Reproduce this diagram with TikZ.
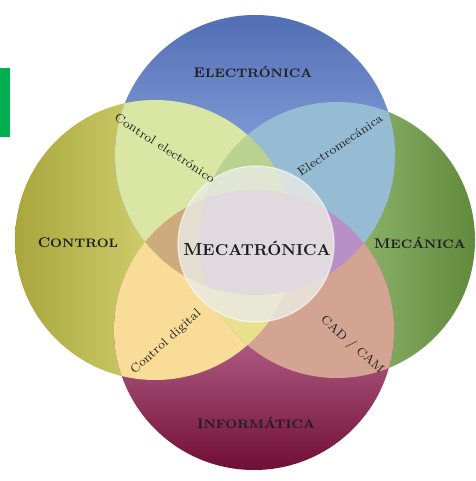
\documentclass[tikz,border=0pt]{standalone}
\usepackage{fontspec}
\usepackage{tikz}
\usetikzlibrary{positioning}
\definecolor{BarGreen}{RGB}{0,176,80}
\definecolor{ElecTop}{RGB}{82,110,180}
\definecolor{ElecBot}{RGB}{178,204,250}
\definecolor{CtrlOut}{RGB}{168,166,60}
\definecolor{CtrlIn}{RGB}{248,248,160}
\definecolor{MecIn}{RGB}{200,232,170}
\definecolor{MecOut}{RGB}{96,138,60}
\definecolor{InfTop}{RGB}{248,178,222}
\definecolor{InfBot}{RGB}{112,14,52}
\definecolor{LensCE}{RGB}{218,230,164}
\definecolor{LensEM}{RGB}{150,188,212}
\definecolor{LensCI}{RGB}{248,220,152}
\definecolor{LensMI}{RGB}{212,164,146}
\definecolor{TriCEM}{RGB}{184,210,144}
\definecolor{TriCIM}{RGB}{232,224,140}
\definecolor{TriCEI}{RGB}{204,172,124}
\definecolor{TriMEI}{RGB}{184,144,200}
\definecolor{CoreFill}{RGB}{234,234,228}
\definecolor{LabelInk}{RGB}{30,30,30}
\newcommand{\capword}[2]{{\footnotesize #1}{\scriptsize #2}}

\begin{document}
\begin{tikzpicture}[
  area/.style={
    font=\bfseries\addfontfeature{LetterSpace=22},
    text=LabelInk
  },
  core/.style={
    font=\bfseries,
    text=LabelInk
  },
  lens/.style={
    font=\scriptsize,
    text=LabelInk,
    inner sep=1pt
  }
]
\useasboundingbox (0,0) rectangle (9.5,-9.62);

\coordinate (elec) at (5.10,-3.10);
\coordinate (info) at (5.08,-6.60);
\coordinate (ctrl) at (3.10,-4.80);
\coordinate (mech) at (6.74,-4.80);
\coordinate (mid) at (5.12,-4.88);

\fill[BarGreen] (0,-1.36) rectangle (0.2,-2.74);

\shade[left color=CtrlOut, right color=CtrlIn] (ctrl) circle (2.8);
\shade[left color=MecIn, right color=MecOut] (mech) circle (2.76);
\shade[top color=ElecTop, bottom color=ElecBot] (elec) circle (2.8);
\shade[top color=InfTop, bottom color=InfBot] (info) circle (2.8);

\begin{scope}
  \clip (ctrl) circle (2.8);
  \fill[LensCE] (elec) circle (2.8);
  \fill[LensCI] (info) circle (2.8);
\end{scope}
\begin{scope}
  \clip (mech) circle (2.76);
  \fill[LensEM] (elec) circle (2.8);
  \fill[LensMI] (info) circle (2.8);
\end{scope}
\begin{scope}
  \clip (ctrl) circle (2.8);
  \clip (mech) circle (2.76);
  \fill[TriCEM] (elec) circle (2.8);
  \fill[TriCIM] (info) circle (2.8);
\end{scope}
\begin{scope}
  \clip (elec) circle (2.8);
  \clip (info) circle (2.8);
  \fill[TriCEI] (ctrl) circle (2.8);
  \fill[TriMEI] (mech) circle (2.76);
\end{scope}

\fill[CoreFill, fill opacity=0.82] (mid) circle (1.56);
\draw[white, line width=0.7pt, opacity=0.6] (mid) circle (1.56);

\node[area] (elecname) at (5.06,-1.44) {\capword{E}{LECTRÓNICA}};
\node[area] (ctrlname) at (1.56,-4.86) {\capword{C}{ONTROL}};
\node[area] (mechname) at (8.40,-4.86) {\capword{M}{ECÁNICA}};
\node[area] (infoname) at (5.12,-8.46) {\capword{I}{NFORMÁTICA}};
\node[core] (midname) at (5.14,-4.96) {{\normalsize M}{\small ECATRÓNICA}};

\node[lens, rotate=-33] (cename) at (3.30,-2.96) {Control electrónico};
\node[lens, rotate=34] (emname) at (6.80,-2.90) {Electromecánica};
\node[lens, rotate=42] (ciname) at (3.32,-6.84) {Control digital};
\node[lens, rotate=-42] (miname) at (7.04,-6.90) {CAD / CAM};
\end{tikzpicture}
\end{document}
